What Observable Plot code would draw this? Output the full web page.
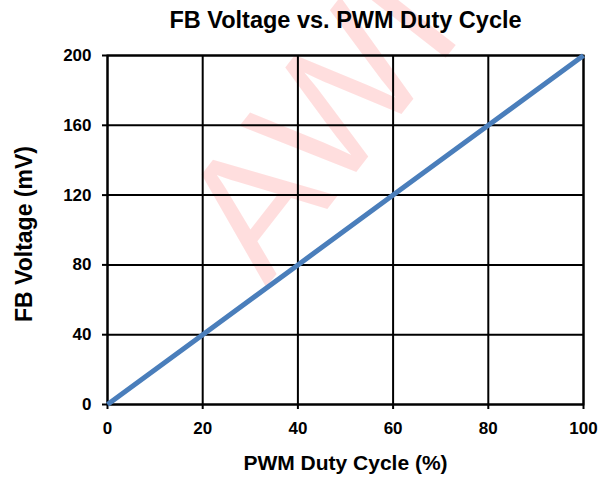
<!DOCTYPE html>
<html>
<head>
<meta charset="utf-8">
<script src="https://cdn.jsdelivr.net/npm/d3@7"></script>
<script src="https://cdn.jsdelivr.net/npm/@observablehq/plot@0.6"></script>
<style>
  html, body { margin: 0; padding: 0; background: #fff; }
  svg { font-family: "Liberation Sans", Arial, sans-serif; }
</style>
</head>
<body>
<div id="chart"></div>
<script>
const dutyCycle = [0, 20, 40, 60, 80, 100];
const fbVoltage = [0, 40, 80, 120, 160, 200];
const xTicks = [0, 20, 40, 60, 80, 100];
const yTicks = [0, 40, 80, 120, 160, 200];
const titleText = "FB Voltage vs. PWM Duty Cycle";
const xLabel = "PWM Duty Cycle (%)";
const yLabel = "FB Voltage (mV)";
const watermark = "AWI";

const data = dutyCycle.map((d, i) => ({x: d, y: fbVoltage[i]}));

const chart = Plot.plot({
  width: 599,
  height: 478,
  marginLeft: 107,
  marginRight: 16,
  marginTop: 55,
  marginBottom: 74,
  style: {fontFamily: '"Liberation Sans", Arial, sans-serif', background: "#fff", overflow: "visible"},
  x: {domain: [0, 100], ticks: xTicks, label: null},
  y: {domain: [0, 200], ticks: yTicks, label: null},
  marks: [
    Plot.text([watermark], {
      x: () => 45, y: () => 160,
      text: d => d,
      rotate: -52,
      fontSize: 175,
      fill: "#ff0000",
      fillOpacity: 0.13,
      textAnchor: "middle",
      lineAnchor: "middle"
    }),
    Plot.gridX(xTicks, {stroke: "#000", strokeOpacity: 1, strokeWidth: 2}),
    Plot.gridY(yTicks, {stroke: "#000", strokeOpacity: 1, strokeWidth: 2}),
    Plot.frame({stroke: "#000", strokeWidth: 2}),
    Plot.axisX(xTicks, {tickSize: 5, tickPadding: 12, strokeWidth: 2, fontSize: 17, fontWeight: "bold", fill: "#000", stroke: "#000", label: null}),
    Plot.axisY(yTicks, {tickSize: 5, tickPadding: 11, strokeWidth: 2, fontSize: 17, fontWeight: "bold", fill: "#000", stroke: "#000", label: null}),
    Plot.line(data, {x: "x", y: "y", stroke: "#4a7ebb", strokeWidth: 5, strokeLinecap: "butt"}),
    Plot.text([titleText], {frameAnchor: "top", text: d => d, dy: -28, lineAnchor: "bottom", textAnchor: "middle", fontSize: 23.5, fontWeight: "bold", fill: "#000"}),
    Plot.text([xLabel], {frameAnchor: "bottom", text: d => d, dy: 59, lineAnchor: "middle", textAnchor: "middle", fontSize: 21, fontWeight: "bold", fill: "#000"}),
    Plot.text([yLabel], {frameAnchor: "left", text: d => d, dx: -83, dy: 4, rotate: -90, lineAnchor: "middle", textAnchor: "middle", fontSize: 23, fontWeight: "bold", fill: "#000"})
  ]
});
document.getElementById("chart").appendChild(chart);
</script>
</body>
</html>
